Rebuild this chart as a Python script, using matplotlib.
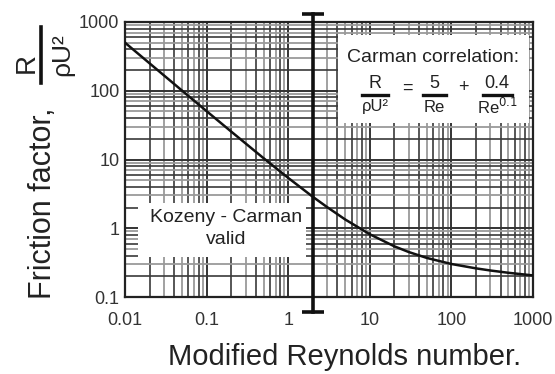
import numpy as np
import matplotlib
matplotlib.use("Agg")
import matplotlib.pyplot as plt
from matplotlib.patches import Rectangle
from matplotlib.lines import Line2D
from matplotlib.ticker import LogLocator, NullFormatter

plt.rcParams['font.family'] = ['Liberation Sans', 'DejaVu Sans']

# Data (Carman correlation curve)
reynolds = [0.01, 0.02, 0.05, 0.1, 0.2, 0.5, 1, 2, 3, 5, 10, 20, 30, 50, 100, 200, 300, 500, 1000]
friction = [500.6, 250.6, 100.5, 50.5, 25.5, 10.43, 5.4, 2.87, 2.03, 1.34, 0.818, 0.546, 0.451,
            0.370, 0.302, 0.261, 0.243, 0.225, 0.206]
valid_limit_re = 2
valid_bar_range = [0.06, 1300]
x_ticks = [0.01, 0.1, 1, 10, 100, 1000]
x_tick_labels = ['0.01', '0.1', '1', '10', '100', '1000']
y_ticks = [0.1, 1, 10, 100, 1000]
y_tick_labels = ['0.1', '1', '10', '100', '1000']

W, H = 555, 374
fig = plt.figure(figsize=(W / 100, H / 100), dpi=100)

def fx(x):
    return x / W

def fy(y):
    return 1 - y / H

ax = fig.add_axes([fx(125), fy(297), fx(533) - fx(125), fy(22) - fy(297)])
ax.set_xscale('log')
ax.set_yscale('log')
ax.set_xlim(0.01, 1000)
ax.set_ylim(0.1, 1000)

ax.set_xticks(x_ticks)
ax.set_xticklabels(x_tick_labels)
ax.set_yticks(y_ticks)
ax.set_yticklabels(y_tick_labels)
ax.xaxis.set_minor_locator(LogLocator(base=10, subs=np.arange(2, 10)))
ax.yaxis.set_minor_locator(LogLocator(base=10, subs=np.arange(2, 10)))
ax.xaxis.set_minor_formatter(NullFormatter())
ax.yaxis.set_minor_formatter(NullFormatter())

ax.set_axisbelow(True)
ax.grid(which='major', color='#333333', linewidth=1.4)
ax.grid(which='minor', color='#444444', linewidth=1.2)

# Alternate minor grid shading like a scanned graph paper
for axis in (ax.xaxis, ax.yaxis):
    ticks = axis.get_minor_ticks()
    locs = axis.get_minorticklocs()
    for t, loc in zip(ticks, locs):
        m = int(round(loc / 10 ** np.floor(np.log10(loc) + 1e-9)))
        if m in (3, 5, 7, 9):
            t.gridline.set_color('#9a9a9a')
            t.gridline.set_linewidth(1.3)
        else:
            t.gridline.set_color('#3a3a3a')

ax.tick_params(which='both', direction='in', length=0, width=1, colors='#222222',
               labelsize=13, labelcolor='#333333')
ax.tick_params(axis='x', pad=11)
ax.tick_params(axis='y', pad=4)
for s in ax.spines.values():
    s.set_linewidth(1.6)
    s.set_color('#222222')

# Curve
ax.plot(reynolds, friction, color='#111111', linewidth=1.8, zorder=3)

# Validity limit bar
ax.plot([valid_limit_re, valid_limit_re], valid_bar_range, color='#111111', linewidth=2.6,
        marker='_', markersize=16, markeredgewidth=2.6, clip_on=False, zorder=5)

# White boxes
fig.add_artist(Rectangle((fx(338), fy(123)), fx(529) - fx(338), fy(35) - fy(123),
                         transform=fig.transFigure, facecolor='white', edgecolor='none', zorder=2))
fig.add_artist(Rectangle((fx(138), fy(257)), fx(306) - fx(138), fy(203) - fy(257),
                         transform=fig.transFigure, facecolor='white', edgecolor='none', zorder=2))

tc = '#222222'
# Carman correlation text
fig.text(fx(433), fy(58), 'Carman correlation:', ha='center', va='center', fontsize=14, color=tc, zorder=3)
fig.text(fx(375), fy(84), 'R', ha='center', va='center', fontsize=13, color=tc, zorder=3)
fig.add_artist(Line2D([fx(362), fx(388)], [fy(95), fy(95)], transform=fig.transFigure, color='#111111', linewidth=2.4, zorder=3))
fig.text(fx(375), fy(107), 'ρU²', ha='center', va='center', fontsize=12, color=tc, zorder=3)
fig.text(fx(407), fy(88), '=', ha='center', va='center', fontsize=13, color=tc, zorder=3)
fig.text(fx(434), fy(84), '5', ha='center', va='center', fontsize=13, color=tc, zorder=3)
fig.add_artist(Line2D([fx(423), fx(446)], [fy(95), fy(95)], transform=fig.transFigure, color='#111111', linewidth=2.4, zorder=3))
fig.text(fx(434), fy(107), 'Re', ha='center', va='center', fontsize=12, color=tc, zorder=3)
fig.text(fx(463), fy(88), '+', ha='center', va='center', fontsize=13, color=tc, zorder=3)
fig.text(fx(497), fy(84), '0.4', ha='center', va='center', fontsize=13, color=tc, zorder=3)
fig.add_artist(Line2D([fx(483), fx(512)], [fy(95), fy(95)], transform=fig.transFigure, color='#111111', linewidth=2.4, zorder=3))
fig.text(fx(497), fy(107), 'Re$^{0.1}$', ha='center', va='center', fontsize=12, color=tc, zorder=3)

# Kozeny-Carman text
fig.text(fx(226), fy(218), 'Kozeny - Carman', ha='center', va='center', fontsize=14, color=tc, zorder=3)
fig.text(fx(226), fy(240), 'valid', ha='center', va='center', fontsize=14, color=tc, zorder=3)

# Axis labels
fig.text(fx(345), fy(357), 'Modified Reynolds number.', ha='center', va='center', fontsize=21, color=tc)
fig.text(fx(43), fy(203), 'Friction factor,', ha='center', va='center', rotation=90, fontsize=22, color=tc)
fig.text(fx(27), fy(63), 'R', ha='center', va='center', rotation=90, fontsize=20, color=tc)
fig.add_artist(Line2D([fx(41), fx(41)], [fy(83), fy(27)], transform=fig.transFigure, color='#111111', linewidth=2.6))
fig.text(fx(62), fy(55), 'ρU²', ha='center', va='center', rotation=90, fontsize=19, color=tc)

fig.savefig('out.png', dpi=100)
